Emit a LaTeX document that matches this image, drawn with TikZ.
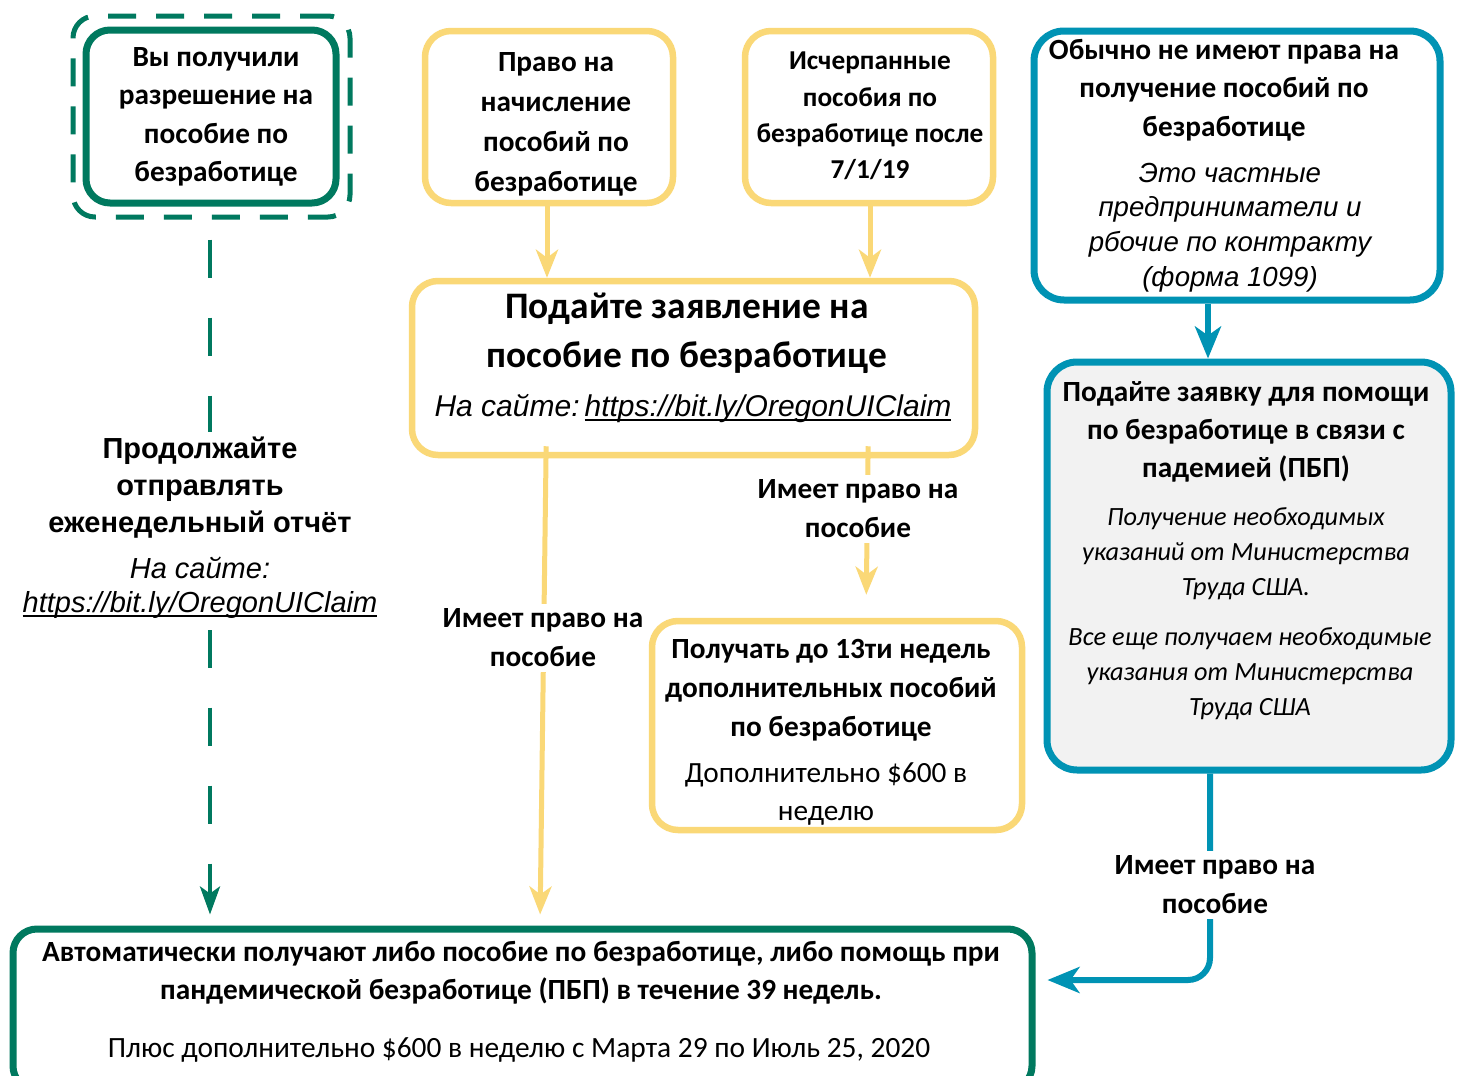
\documentclass[tikz,border=0pt]{standalone}
\usepackage{fontspec}
\setmainfont{Carlito}
\newfontfamily\arl{Liberation Sans}
\usetikzlibrary{arrows.meta}
\definecolor{grn}{HTML}{00795F}
\definecolor{ylw}{HTML}{FAD877}
\definecolor{blu}{HTML}{0093B4}
\definecolor{lgr}{HTML}{F2F2F2}
\newcommand\fsz[2]{\fontsize{#1}{#2}\selectfont}
\newcommand\myul[1]{\sbox0{#1}\rlap{\rule[-4.5pt]{\wd0}{2pt}}\usebox0}
\begin{document}
\begin{tikzpicture}[x=1pt,y=-1pt,
  boxg/.style={draw=grn,line width=7pt,rounded corners=24pt,inner sep=0pt},
  boxgd/.style={draw=grn,line width=5pt,rounded corners=22pt,inner sep=0pt,dash pattern=on 28pt off 20pt},
  boxy/.style={draw=ylw,line width=6.5pt,rounded corners=26pt,inner sep=0pt},
  boxb/.style={draw=blu,line width=7pt,rounded corners=30pt,inner sep=0pt},
  txt/.style={align=center,inner sep=0pt,yshift=-2.5pt},
  bt/.style={txt,font=\fsz{29.3}{38.5}\bfseries},
  lbl/.style={align=center,inner xsep=4pt,inner ysep=5pt,fill=white,font=\fsz{29.3}{39}\bfseries},
  ya/.style={draw=ylw,line width=5pt,-{Stealth[length=28pt,width=22pt,inset=8pt]}},
  ba/.style={draw=blu,line width=6pt,-{Stealth[length=32pt,width=26pt,inset=9pt]}},
  ga/.style={draw=grn,line width=4pt,dash pattern=on 38pt off 40pt,-{Stealth[length=28pt,width=20pt,inset=7pt]}}
]
\clip (0,0) rectangle (1460,1076);
\fill[white] (0,0) rectangle (1460,1076);

% boxes
\node[boxgd,minimum width=277pt,minimum height=201pt] (gd) at (211.5,116.5) {};
\node[boxg,minimum width=250pt,minimum height=173pt] (g1) at (211,116.5) {};
\node[boxy,minimum width=248pt,minimum height=172pt] (y1) at (549,117) {};
\node[boxy,minimum width=248pt,minimum height=172pt] (y2) at (869,117) {};
\node[boxb,minimum width=406pt,minimum height=269pt] (b1) at (1237,165.5) {};
\node[boxy,minimum width=563pt,minimum height=174pt] (ym) at (693.5,368) {};
\node[boxb,fill=lgr,minimum width=404pt,minimum height=408pt] (b2) at (1249,566) {};
\node[boxy,minimum width=370pt,minimum height=209pt] (y3) at (837,725.5) {};
\node[boxg,minimum width=1019pt,minimum height=161pt] (gb) at (522.5,1009.5) {};

% texts
\node[bt,font=\fsz{29.3}{38.3}\bfseries] (g1t) at (216,114.5) {Вы получили\\разрешение на\\пособие по\\безработице};
\node[bt,font=\fsz{29.3}{40}\bfseries] (y1t) at (556,122) {Право на\\начисление\\пособий по\\безработице};
\node[bt,font=\fsz{27.3}{36.3}\bfseries] (y2t) at (870,113.5) {Исчерпанные\\пособия по\\безработице после\\7/1/19};
\node[bt] (b1t) at (1224,87.5) {Обычно не имеют права на\\получение пособий по\\безработице};
\node[txt,font=\fsz{27.6}{34.7}\arl\itshape] (b1i) at (1230,225) {Это частные\\предприниматели и\\рбочие по контракту\\(форма 1099)};
\node[txt,font=\fsz{37.4}{49}\bfseries] (ymt) at (687,330.5) {Подайте заявление на\\пособие по безработице};
\node[txt,font=\fsz{30}{36}\arl\itshape] (ymu) at (693,406) {На сайте:\,\myul{https://bit.ly/OregonUIClaim}};
\node[bt,font=\fsz{29.3}{38}\bfseries] (b2t) at (1246,429) {Подайте заявку для помощи\\по безработице в связи с\\падемией (ПБП)};
\node[txt,font=\fsz{26.3}{35}\itshape] (b2i) at (1246,551) {Получение необходимых\\указаний от Министерства\\Труда США.};
\node[txt,font=\fsz{26.3}{35}\itshape] (b2j) at (1250,671) {Все еще получаем необходимые\\указания от Министерства\\Труда США};
\node[bt,font=\fsz{29.3}{39}\bfseries] (y3t) at (831,688) {Получать до 13ти недель\\дополнительных пособий\\по безработице};
\node[txt,font=\fsz{29.3}{38}] (y3r) at (826,792) {Дополнительно \$600 в\\неделю};
\node[bt,font=\fsz{29.3}{38}\bfseries] (gbt) at (521,970) {Автоматически получают либо пособие по безработице, либо помощь при\\пандемической безработице (ПБП) в течение 39 недель.};
\node[txt,font=\fsz{29.4}{38}] (gbr) at (519,1047) {Плюс дополнительно \$600 в неделю с Марта 29 по Июль 25, 2020};

% connectors
\draw[ya] ([xshift=-2pt]y1.south) -- ([xshift=-2pt]y1.south |- ym.north);
\draw[ya] ([xshift=1pt]y2.south) -- ([xshift=1pt]y2.south |- ym.north);
\draw[ba] ([xshift=-29pt]b1.south) -- ([xshift=-29pt]b1.south |- b2.north);
\draw[ya,shorten <=-12pt,shorten >=23pt] ([xshift=174.5pt]ym.south) -- ([xshift=29pt]y3.north);
\draw[ya,shorten <=-12pt,shorten >=11pt] ([xshift=-147.5pt]ym.south) -- ([xshift=17.5pt]gb.north);
\draw[ga,shorten <=20pt,shorten >=11pt] ([xshift=-1.5pt]gd.south) -- ([xshift=-312.5pt]gb.north);
\draw[ba,rounded corners=22pt,shorten >=12pt] ([xshift=-39pt]b2.south) |- ([yshift=29.5pt]gb.east);

% labels
\node[lbl,font=\fsz{29}{37}\arl\bfseries,minimum height=112pt] (lbl1) at (200,488) {Продолжайте\\отправлять\\еженедельный отчёт};
\node[lbl,font=\fsz{29}{34}\arl\itshape,minimum height=84pt] (lbl1b) at (200,588) {На сайте:\\\myul{https://bit.ly/OregonUIClaim}};
\node[lbl] (lbl2) at (543,638) {Имеет право на\\пособие};
\node[lbl] (lbl3) at (858,509) {Имеет право на\\пособие};
\node[lbl] (lbl4) at (1215,885) {Имеет право на\\пособие};
\end{tikzpicture}
\end{document}
